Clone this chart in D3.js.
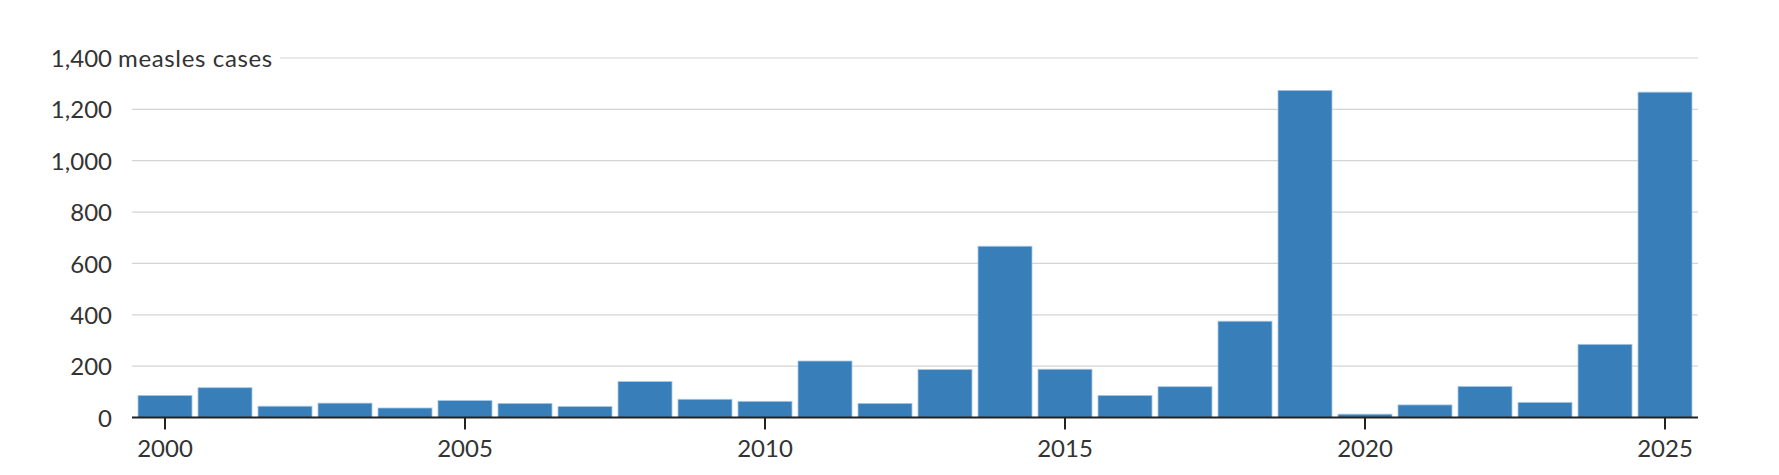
<!DOCTYPE html>
<html>
<head>
<meta charset="utf-8">
<script src="https://cdn.jsdelivr.net/npm/d3@7"></script>
<style>
  html, body { margin: 0; padding: 0; background: #fff; }
  svg { display: block; font-family: Lato, "Open Sans", sans-serif; }
</style>
</head>
<body>
<svg id="chart" width="1779" height="475"></svg>
<script>
const years = [2000,2001,2002,2003,2004,2005,2006,2007,2008,2009,2010,2011,2012,2013,2014,2015,2016,2017,2018,2019,2020,2021,2022,2023,2024,2025];
const cases = [86,116,44,56,37,66,55,43,140,71,63,220,55,187,667,188,86,120,375,1274,13,49,121,59,285,1267];
const yTicks = [0,200,400,600,800,1000,1200,1400];
const xTickYears = [2000,2005,2010,2015,2020,2025];
const yUnitLabel = "measles cases";

const svg = d3.select("#chart");
const W = 1779, H = 475;
const plot = {left: 132, right: 1698, top: 58, bottom: 417.5};

const x = d3.scaleBand().domain(years).range([135, 1695]).paddingInner(0.1).paddingOuter(0.05);
const y = d3.scaleLinear().domain([0, 1400]).range([plot.bottom, plot.top]);

const textColor = "#333";
const fontSize = 24;

// gridlines
const grid = svg.append("g");
grid.selectAll("line").data(yTicks.filter(d => d > 0)).join("line")
  .attr("x1", plot.left).attr("x2", plot.right)
  .attr("y1", d => y(d)).attr("y2", d => y(d))
  .attr("stroke", "#d4d4d4").attr("stroke-width", 1.2);

// y labels
const labelX = 112;
const yl = svg.append("g").attr("font-size", fontSize).attr("fill", textColor);
yTicks.forEach(t => {
  const top = t === d3.max(yTicks);
  if (top) {
    const sfx = yl.append("text")
      .attr("x", labelX + 6).attr("y", y(t)).attr("dy", "0.38em")
      .attr("text-anchor", "start")
      .attr("letter-spacing", "0.65px")
      .text(yUnitLabel);
    const bb = sfx.node().getBBox();
    yl.insert("rect", ":first-child")
      .attr("x", bb.x - 2).attr("y", y(t) - 3).attr("width", bb.width + 9).attr("height", 6)
      .attr("fill", "#fff");
  }
  yl.append("text")
    .attr("x", labelX).attr("y", y(t)).attr("dy", "0.38em")
    .attr("text-anchor", "end")
    .text(d3.format(",")(t));
});

// bars
svg.append("g").selectAll("rect").data(years).join("rect")
  .attr("x", d => x(d))
  .attr("width", x.bandwidth())
  .attr("y", (d, i) => y(cases[i]))
  .attr("height", (d, i) => y(0) - y(cases[i]))
  .attr("fill", "#387eb8")
  .attr("stroke", "#a9c8e3").attr("stroke-width", 0.8);

// x axis
const ax = svg.append("g");
ax.append("line")
  .attr("x1", plot.left).attr("x2", plot.right)
  .attr("y1", y(0)).attr("y2", y(0))
  .attr("stroke", "#222").attr("stroke-width", 2);
ax.selectAll("line.tick").data(xTickYears).join("line").attr("class", "tick")
  .attr("x1", d => x(d) + x.bandwidth() / 2).attr("x2", d => x(d) + x.bandwidth() / 2)
  .attr("y1", y(0)).attr("y2", y(0) + 12)
  .attr("stroke", "#222").attr("stroke-width", 2);
ax.selectAll("text").data(xTickYears).join("text")
  .attr("x", d => x(d) + x.bandwidth() / 2)
  .attr("y", 448).attr("dy", "0.38em")
  .attr("text-anchor", "middle")
  .attr("font-size", fontSize).attr("fill", textColor)
  .text(d => d);
</script>
</body>
</html>
